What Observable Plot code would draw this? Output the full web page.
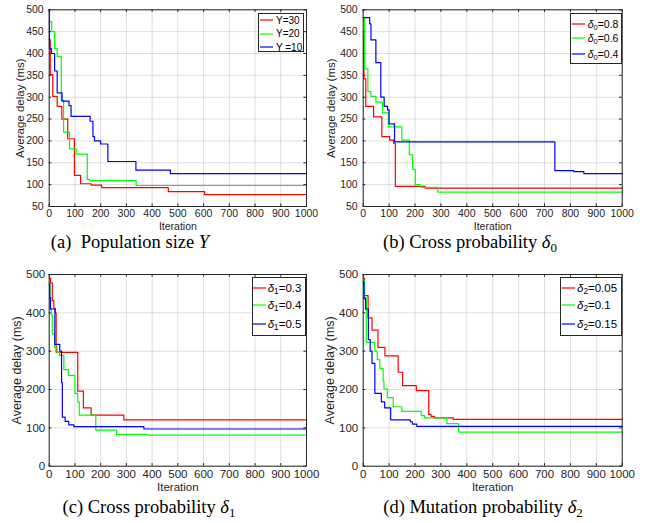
<!DOCTYPE html>
<html><head><meta charset="utf-8">
<script src="https://cdn.jsdelivr.net/npm/d3@7"></script>
<script src="https://cdn.jsdelivr.net/npm/@observablehq/plot@0.6"></script>
<style>
body{margin:0;background:#fff;}
#root{position:relative;width:645px;height:523px;background:#fff;overflow:hidden;font-family:"Liberation Sans",Arial,sans-serif;}
.panel{position:absolute;}
.cap{position:absolute;font-family:"Liberation Serif","Times New Roman",serif;font-size:18.5px;color:#000;white-space:nowrap;transform:translate(-50%,-50%);line-height:1;}
.cap sub{font-size:70%;vertical-align:-0.3em;line-height:0;}
.leg{position:absolute;border:1px solid #262626;background:#fff;box-sizing:border-box;}
.leg .row{position:absolute;left:0;height:14px;display:flex;align-items:center;white-space:nowrap;color:#000;}
.leg sub{font-size:72%;vertical-align:-0.3em;line-height:0;}
</style></head><body><div id="root"></div><script>
// ---------- data ----------
const iterTicks = [0,100,200,300,400,500,600,700,800,900,1000];
const yTicksAB = [50,100,150,200,250,300,350,400,450,500];
const yTicksCD = [0,100,200,300,400,500];
const seriesColors = ["#ff0000","#00ff00","#0000ff"];

// (a) Population size Y
const aLabels = ["Y=30","Y=20","Y =10"];
const aRed = [[0,432],[4,352],[14,302],[31,279],[49,250],[72,205],[98,121],[122,102],[163,99],[204,93],[463,84],[604,77],[1000,77]];
const aGreen = [[0,473],[10,450],[21,411],[31,393],[47,293],[56,220],[79,182],[105,170],[148,112],[157,109],[338,98],[1000,98]];
const aBlue = [[0,500],[1,411],[9,400],[21,360],[31,310],[50,291],[77,281],[85,256],[159,245],[170,210],[176,200],[200,193],[228,153],[337,133],[471,125],[1000,125]];

// (b) Cross probability delta0
const bLabels = ["<i>δ</i><sub>0</sub>=0.8","<i>δ</i><sub>0</sub>=0.6","<i>δ</i><sub>0</sub>=0.4"];
const bRed = [[0,440],[3,342],[10,279],[40,255],[72,210],[102,202],[117,195],[124,96],[239,92],[1000,92]];
const bGreen = [[0,482],[5,365],[18,313],[30,302],[49,289],[75,264],[97,232],[149,202],[178,168],[191,135],[201,100],[220,94],[288,83],[1000,83]];
const bBlue = [[0,482],[25,468],[30,431],[49,379],[68,300],[81,279],[94,271],[100,239],[121,198],[740,132],[813,130],[852,125],[1000,125]];

// (c) Cross probability delta1
const cLabels = ["<i>δ</i><sub>1</sub>=0.3","<i>δ</i><sub>1</sub>=0.4","<i>δ</i><sub>1</sub>=0.5"];
const cRed = [[0,490],[5,478],[12,432],[18,412],[24,400],[27,297],[111,196],[133,152],[163,133],[290,121],[1000,121]];
const cGreen = [[0,477],[3,410],[8,395],[12,345],[21,310],[31,297],[40,289],[57,252],[74,237],[100,190],[111,167],[117,133],[181,94],[262,83],[378,81],[1000,81]];
const cBlue = [[0,475],[2,440],[5,410],[22,318],[41,300],[48,218],[51,128],[62,117],[76,108],[96,103],[368,97],[1000,97]];

// (d) Mutation probability delta2
const dLabels = ["<i>δ</i><sub>2</sub>=0.05","<i>δ</i><sub>2</sub>=0.1","<i>δ</i><sub>2</sub>=0.15"];
const dRed = [[0,490],[5,445],[19,387],[34,355],[57,310],[84,288],[135,245],[152,210],[205,197],[253,135],[262,130],[275,126],[348,122],[1000,122]];
const dGreen = [[0,485],[5,440],[12,323],[45,300],[54,278],[64,255],[77,222],[80,202],[93,179],[116,155],[149,143],[224,132],[237,126],[323,111],[368,89],[1000,89]];
const dBlue = [[0,480],[3,437],[9,410],[20,330],[27,300],[34,268],[45,190],[70,168],[83,152],[106,121],[182,116],[190,110],[207,104],[1000,104]];

const captions = [
  "(a)&nbsp; Population size <i>Y</i>",
  "(b) Cross probability <i>δ</i><sub>0</sub>",
  "(c) Cross probability <i>δ</i><sub>1</sub>",
  "(d) Mutation probability <i>δ</i><sub>2</sub>"
];

// ---------- layout ----------
const W = 322;
const panels = [
  {left:0, top:0, height:234, mL:48.7, mR:16, mT:9.3, mB:28, yDomain:[50,500], yTicks:yTicksAB, fs:10.5, lfs:11.5, ylo:33, xlo:23.5, xtp:3.4, ytp:5.5,
   series:[aRed,aGreen,aBlue], labels:aLabels,
   cap:{x:130,y:242},
   leg:{left:258,top:13,width:46,height:39,rows:[6,19.5,33],lineL:2,lineW:13,textL:17,fs:10}},
  {left:322, top:0, height:234, mL:40.7, mR:22.3, mT:9.3, mB:28, yDomain:[50,500], yTicks:yTicksAB, fs:10.5, lfs:11.5, ylo:36, xlo:23.5, xtp:3.4, ytp:5.5,
   series:[bRed,bGreen,bBlue], labels:bLabels,
   cap:{x:470,y:242},
   leg:{left:570,top:12.7,width:51.7,height:51.3,rows:[10,24.6,40],lineL:1.7,lineW:13.3,textL:16.7,fs:10.5}},
  {left:0, top:262, height:232, mL:48.7, mR:16, mT:12, mB:28.3, yDomain:[0,500], yTicks:yTicksCD, fs:11.5, lfs:12.5, ylo:37.5, xlo:25, xtp:3.6, ytp:4,
   series:[cRed,cGreen,cBlue], labels:cLabels,
   cap:{x:149,y:507},
   leg:{left:251.7,top:276.7,width:54.3,height:59.3,rows:[10,27.6,46.6],lineL:0.7,lineW:13.3,textL:15,fs:11.5}},
  {left:322, top:262, height:232, mL:40.7, mR:22.3, mT:12, mB:28.3, yDomain:[0,500], yTicks:yTicksCD, fs:11.5, lfs:12.5, ylo:38.5, xlo:25, xtp:3.6, ytp:5,
   series:[dRed,dGreen,dBlue], labels:dLabels,
   cap:{x:483,y:507},
   leg:{left:560,top:276.7,width:61.7,height:59.3,rows:[10,27.6,46.6],lineL:1.7,lineW:13.3,textL:16,fs:11.5}}
];

const root = document.getElementById("root");
const frameColor = "#262626";

panels.forEach((p, pi) => {
  const ih = p.height - p.mT - p.mB;
  const iw = W - p.mL - p.mR;
  const tk = 2.6;
  const marks = [
    Plot.gridX(iterTicks, {stroke:"#000", strokeOpacity:0.13}),
    Plot.gridY(p.yTicks, {stroke:"#000", strokeOpacity:0.13}),
    Plot.axisX(iterTicks, {tickSize:0, tickPadding:p.xtp, tickFormat:d=>String(d), label:"Iteration", labelAnchor:"center", labelArrow:"none", labelOffset:p.xlo, fill:frameColor}),
    Plot.axisY(p.yTicks, {tickSize:0, tickPadding:p.ytp, tickFormat:d=>String(d), label:null, fill:frameColor}),
    Plot.axisY(p.yTicks, {tickSize:0, tickFormat:()=>"", label:"Average delay (ms)", labelAnchor:"center", labelArrow:"none", labelOffset:p.ylo, fill:frameColor, fontSize:p.lfs}),
    Plot.tickX(iterTicks, {x:d=>d, stroke:frameColor, insetTop:ih-tk}),
    Plot.tickX(iterTicks, {x:d=>d, stroke:frameColor, insetBottom:ih-tk}),
    Plot.tickY(p.yTicks, {y:d=>d, stroke:frameColor, insetRight:iw-tk}),
    Plot.tickY(p.yTicks, {y:d=>d, stroke:frameColor, insetLeft:iw-tk}),
    ...p.series.map((s, i) => Plot.line(s, {x:d=>d[0], y:d=>d[1], stroke:seriesColors[i], strokeWidth:1.2, curve:"step-after"})),
    Plot.frame({stroke:frameColor, strokeWidth:1})
  ];
  const svg = Plot.plot({
    width: W, height: p.height,
    marginLeft:p.mL, marginRight:p.mR, marginTop:p.mT, marginBottom:p.mB,
    style:{fontFamily:'"Liberation Sans", Arial, sans-serif', fontSize:p.fs+"px", color:frameColor, background:"transparent", overflow:"visible"},
    x:{domain:[0,1000]},
    y:{domain:p.yDomain},
    marks
  });
  svg.classList.add("panel");
  svg.style.left = p.left + "px";
  svg.style.top = p.top + "px";
  root.appendChild(svg);

  // legend box
  const L = p.leg;
  const leg = document.createElement("div");
  leg.className = "leg";
  Object.assign(leg.style, {left:L.left+"px", top:L.top+"px", width:L.width+"px", height:L.height+"px", fontSize:L.fs+"px"});
  p.labels.forEach((lab, i) => {
    const row = document.createElement("div");
    row.className = "row";
    row.style.top = (L.rows[i] - 7) + "px";
    const ns = "http://www.w3.org/2000/svg";
    const sv = document.createElementNS(ns, "svg");
    sv.setAttribute("width", L.textL);
    sv.setAttribute("height", 14);
    sv.style.flex = "none";
    const ln = document.createElementNS(ns, "line");
    ln.setAttribute("x1", L.lineL - 1); ln.setAttribute("x2", L.lineL - 1 + L.lineW);
    ln.setAttribute("y1", 7); ln.setAttribute("y2", 7);
    ln.setAttribute("stroke", seriesColors[i]); ln.setAttribute("stroke-width", 1.2);
    sv.appendChild(ln);
    row.appendChild(sv);
    const sp = document.createElement("span");
    sp.innerHTML = lab;
    row.appendChild(sp);
    leg.appendChild(row);
  });
  root.appendChild(leg);

  // caption
  const cap = document.createElement("div");
  cap.className = "cap";
  cap.innerHTML = captions[pi];
  cap.style.left = p.cap.x + "px";
  cap.style.top = p.cap.y + "px";
  root.appendChild(cap);
});
</script></body></html>
